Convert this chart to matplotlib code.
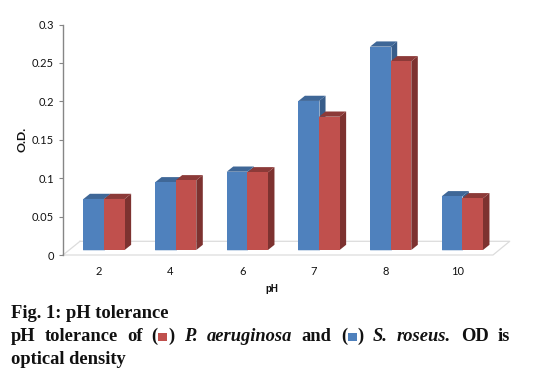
import numpy as np
import matplotlib
matplotlib.use('Agg')
import matplotlib.pyplot as plt
from matplotlib.patches import Rectangle

ph_labels = ['2', '4', '6', '7', '8', '10']
s_roseus = [0.0664, 0.0881, 0.1019, 0.194, 0.2647, 0.0699]
p_aeruginosa = [0.0664, 0.0907, 0.1011, 0.1735, 0.2456, 0.0673]
y_ticks = [0, 0.05, 0.1, 0.15, 0.2, 0.25, 0.3]
y_tick_labels = ['0', '0.05', '0.1', '0.15', '0.2', '0.25', '0.3']

W, H = 534, 374
fig = plt.figure(figsize=(W/100, H/100), dpi=100)
ax = fig.add_axes([63/W, 1-255/H, 430/W, 230.5/H])
ax.set_xlim(-0.5, 5.5)
ax.set_ylim(0, 0.3)
ax.patch.set_visible(False)

# one pixel in data units, for the fake 3d depth
px = 6/430
py = 0.3/230.5
base = 5*py
dx, dy = 6.5*px, 5.2*py
bw = 20.6*px
shift = 5.2*px

# floor
fx = [-0.5, 5.5, 5.5+16.7*px, -0.5+17*px]
fy = [0, 0, 13.7*py, 13.7*py]
ax.plot(fx, fy, color='#dcdcdc', lw=0.9, clip_on=False, zorder=1)
ax.plot([-0.5, -0.5+17*px], [0, 13.7*py], color='#dcdcdc', lw=0.9, clip_on=False, zorder=1)

def bar3d(x, v, front, side, top, z):
    ax.fill([x+bw, x+bw+dx, x+bw+dx, x+bw], [base, base+dy, base+v+dy, base+v],
            color=side, lw=0, zorder=z, clip_on=False)
    ax.fill([x, x+dx, x+bw+dx, x+bw], [base+v, base+v+dy, base+v+dy, base+v],
            color=top, lw=0, zorder=z, clip_on=False)
    ax.bar(x, v, bw, bottom=base, align='edge', color=front, lw=0, zorder=z+0.1)

for i in range(len(ph_labels)):
    x0 = i + shift - bw
    bar3d(x0, s_roseus[i], '#4f81bd', '#385d8a', '#3f6797', 3)
    ax.plot([x0, x0+bw, x0+bw], [base, base, base+s_roseus[i]], color='#b9cde5', lw=0.5, zorder=3.05)
    bar3d(x0+bw, p_aeruginosa[i], '#c0504d', '#7d3230', '#8c3a38', 4)

for s in ['top', 'right', 'bottom']:
    ax.spines[s].set_visible(False)
ax.spines['left'].set_color('#868686')
ax.spines['left'].set_linewidth(1.0)
ax.set_yticks(y_ticks)
ax.set_yticklabels(y_tick_labels, fontsize=8, family='Lato', color='#111111')
ax.tick_params(axis='y', length=3, width=0.8, color='#868686', pad=3.5)
ax.set_xticks(range(len(ph_labels)))
ax.set_xticklabels(ph_labels, fontsize=8, family='Lato', color='#111111')
ax.tick_params(axis='x', length=0, pad=8)

def txt(x, y, s, **kw):
    kw.setdefault('family', 'Liberation Serif')
    kw.setdefault('fontsize', 13.3)
    kw.setdefault('fontweight', 'bold')
    kw.setdefault('va', 'baseline')
    kw.setdefault('color', '#111111')
    fig.text(x/W, 1-y/H, s, **kw)

txt(272, 289, 'pH', family='Liberation Sans', fontsize=7, ha='center', va='center')
txt(22.5, 139.5, 'O.D.', family='Lato', fontsize=8.8, rotation=90, ha='center', va='center')

txt(11, 318, 'Fig. 1: pH tolerance')
line2 = 341
for x, word, style in [(11, 'pH', 'normal'), (45, 'tolerance', 'normal'), (127, 'of', 'normal'),
                       (151.5, '(', 'normal'), (168, ')', 'normal'),
                       (184, 'P.', 'italic'), (206.7, 'aeruginosa', 'italic'), (301.7, 'and', 'normal'),
                       (341.5, '(', 'normal'), (357.5, ')', 'normal'),
                       (372.3, 'S.', 'italic'), (396.7, 'roseus.', 'italic'), (460.7, 'OD', 'normal'),
                       (498, 'is', 'normal')]:
    txt(x, line2, word, fontstyle=style)
txt(11, 364, 'optical density')

for x, c in [(158.3, '#c0504d'), (348.3, '#4f81bd')]:
    fig.add_artist(Rectangle((x/W, 1-line2/H), 8.3/W, 8.3/H, transform=fig.transFigure, color=c, lw=0))

fig.savefig('out.png', dpi=100)
